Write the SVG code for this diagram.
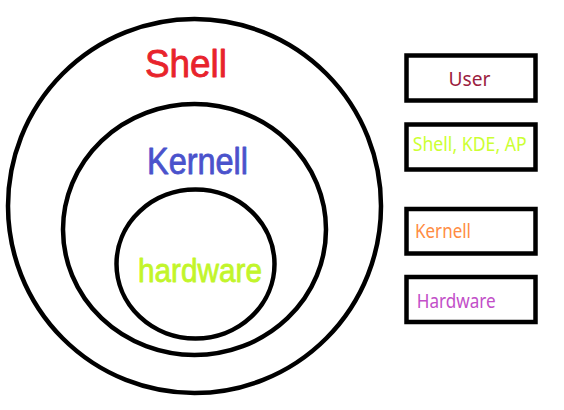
<svg xmlns="http://www.w3.org/2000/svg" width="564" height="410" viewBox="0 0 564 410">
<style>
.ring{fill:none;stroke:#000;stroke-width:4.5}
.box{fill:#fff;stroke:#000;stroke-width:4.5}
.hand{font-family:"Liberation Sans",sans-serif;stroke-width:0.8;stroke-linejoin:round}
.lbl{font-family:"Noto Sans","Open Sans",sans-serif;font-size:20px}
</style>
<rect width="564" height="410" fill="#fff"/>
<g id="shell-ring">
<ellipse class="ring" cx="194.5" cy="206" rx="186.5" ry="187"/>
<text class="hand" x="145" y="77" font-size="38" textLength="82" lengthAdjust="spacingAndGlyphs" fill="#e8232c" stroke="#e8232c">Shell</text>
</g>
<g id="kernel-ring">
<ellipse class="ring" cx="194.5" cy="229.5" rx="131.5" ry="125.5"/>
<text class="hand" x="147" y="174" font-size="36" textLength="101" lengthAdjust="spacingAndGlyphs" fill="#4a52cc" stroke="#4a52cc">Kernell</text>
</g>
<g id="hardware-ring">
<ellipse class="ring" cx="195.5" cy="264" rx="79" ry="74.5"/>
<text class="hand" x="138" y="282" font-size="33" textLength="124" lengthAdjust="spacingAndGlyphs" fill="#c2f52a" stroke="#c2f52a">hardware</text>
</g>
<g id="box-user">
<rect class="box" x="406.5" y="55.5" width="129" height="45"/>
<text class="lbl" x="448.5" y="85.5" textLength="42" lengthAdjust="spacingAndGlyphs" fill="#9b1d40">User</text>
</g>
<g id="box-shell">
<rect class="box" x="406.5" y="124.5" width="129" height="45"/>
<text class="lbl" x="412.7" y="151" textLength="114" lengthAdjust="spacingAndGlyphs" fill="#ccff33">Shell, KDE, AP</text>
</g>
<g id="box-kernel">
<rect class="box" x="406.5" y="209" width="129" height="44.5"/>
<text class="lbl" x="415" y="237.5" textLength="56" lengthAdjust="spacingAndGlyphs" fill="#ff8c42">Kernell</text>
</g>
<g id="box-hardware">
<rect class="box" x="406.5" y="277" width="129" height="45"/>
<text class="lbl" x="416.7" y="308" textLength="79" lengthAdjust="spacingAndGlyphs" fill="#c24fc8">Hardware</text>
</g>
<g id="connectors"></g>
</svg>
